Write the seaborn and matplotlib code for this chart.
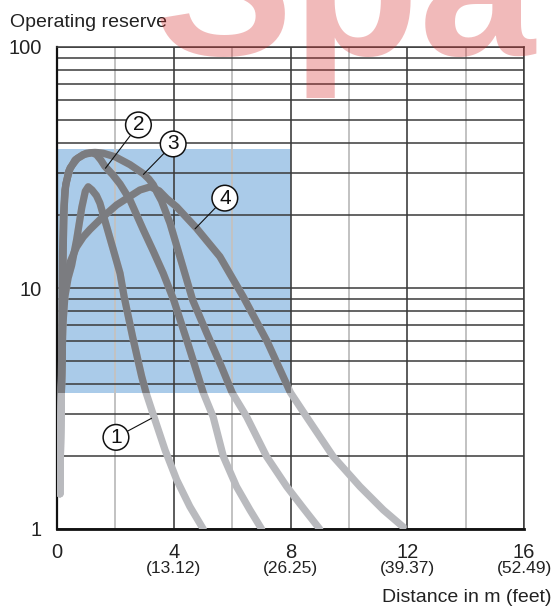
import matplotlib
matplotlib.use("Agg")
import matplotlib.pyplot as plt
import seaborn as sns
import numpy as np
import pandas as pd
from matplotlib.patches import Rectangle

# ---------------- data ----------------
x_ticks = [0, 4, 8, 12, 16]
x_tick_labels = ["0", "4", "8", "12", "16"]
x_feet_labels = ["", "(13.12)", "(26.25)", "(39.37)", "(52.49)"]
y_ticks = [1, 10, 100]
y_tick_labels = ["1", "10", "100"]

curve1_x = [0.10, 0.12, 0.15, 0.20, 0.27, 0.38, 0.50, 0.67, 0.85, 0.97, 1.07, 1.20, 1.35, 1.47, 1.70, 1.93, 2.16, 2.30, 2.60, 2.90, 3.05, 3.36, 3.70, 4.10, 4.55, 5.01]
curve1_y = [1.40, 2.20, 3.70, 7.00, 9.20, 11.0, 12.4, 15.8, 21.6, 25.2, 26.3, 25.5, 24.2, 22.5, 18.0, 14.4, 11.5, 9.2, 6.2, 4.3, 3.68, 2.83, 2.13, 1.60, 1.24, 1.00]

curve2_x = [0.10, 0.12, 0.15, 0.17, 0.19, 0.22, 0.27, 0.40, 0.62, 0.90, 1.20, 1.35, 1.50, 1.64, 1.90, 2.16, 2.50, 2.96, 3.30, 3.64, 4.00, 4.50, 5.01, 5.35, 5.70, 6.15, 6.61, 7.01]
curve2_y = [1.40, 2.20, 3.70, 8.00, 14.0, 20.0, 25.5, 30.5, 34.0, 35.8, 36.4, 35.8, 34.0, 32.0, 29.6, 27.0, 23.2, 17.4, 14.2, 11.5, 8.9, 5.8, 3.68, 2.92, 2.00, 1.50, 1.20, 1.00]

curve3_x = [0.10, 0.12, 0.15, 0.20, 0.22, 0.25, 0.30, 0.45, 0.70, 1.00, 1.30, 1.60, 2.00, 2.50, 2.96, 3.15, 3.30, 3.45, 3.58, 3.87, 4.21, 4.65, 5.13, 5.64, 6.00, 6.50, 7.18, 7.87, 8.44, 9.00]
curve3_y = [1.40, 2.20, 3.70, 10.0, 16.0, 22.0, 27.0, 31.5, 34.5, 36.2, 36.6, 36.2, 35.0, 32.5, 29.8, 28.3, 26.8, 24.6, 23.0, 18.6, 13.5, 8.9, 6.5, 4.7, 3.68, 2.92, 2.00, 1.50, 1.22, 1.00]

curve4_x = [0.10, 0.12, 0.15, 0.20, 0.27, 0.45, 0.67, 0.90, 1.13, 1.47, 2.04, 2.50, 2.84, 3.20, 3.50, 3.76, 4.10, 4.78, 5.58, 6.38, 7.20, 8.00, 8.55, 9.46, 10.38, 11.18, 11.86]
curve4_y = [1.40, 2.20, 3.70, 8.00, 10.2, 12.8, 14.8, 16.3, 17.5, 19.2, 22.1, 24.0, 25.5, 26.3, 25.3, 23.5, 21.7, 17.7, 13.5, 9.2, 6.0, 3.68, 2.92, 2.00, 1.50, 1.20, 1.02]

curves_x = [curve1_x, curve2_x, curve3_x, curve4_x]
curves_y = [curve1_y, curve2_y, curve3_y, curve4_y]

# highlighted zone (operating area)
zone_x = [0, 8]
zone_y = [3.67, 37.7]

# callout labels: text, circle position, pointer target
callout_text = ["1", "2", "3", "4"]
callout_xy_text = [(2.02, 2.40), (2.79, 47.5), (3.98, 39.6), (5.75, 23.6)]
callout_xy_point = [(3.24, 2.88), (1.66, 31.4), (2.96, 29.6), (4.73, 17.6)]

# ---------------- style ----------------
sns.set_style("white")
plt.rcParams["font.family"] = ["Liberation Sans", "DejaVu Sans"]

DARK = "#7b7c80"
LIGHT = "#b9babe"
BLUE = "#aacbe9"
TXT = "#222222"

fig = plt.figure(figsize=(5.53, 6.07), dpi=100)
ax = fig.add_axes([57 / 553, 1 - 529 / 607, (524 - 57) / 553, (529 - 47) / 607])
ax.set_yscale("log")
ax.set_xlim(0, 16)
ax.set_ylim(1, 100)

# blue zone
rect = Rectangle((zone_x[0], zone_y[0]), zone_x[1] - zone_x[0], zone_y[1] - zone_y[0],
                 facecolor=BLUE, edgecolor="none", zorder=0.6)
ax.add_patch(rect)

# grid
ax.set_axisbelow("line")
ax.set_xticks(x_ticks)
ax.set_xticklabels(x_tick_labels)
ax.set_xticks([2, 6, 10, 14], minor=True)
ax.set_yticks(y_ticks)
ax.set_yticklabels(y_tick_labels)
minor_y = [m * d for d in (1, 10) for m in range(2, 10)]
ax.set_yticks(minor_y, minor=True)
ax.set_yticklabels([], minor=True)
ax.grid(True, which="both", axis="y", color="#3a3a3a", lw=1.1)
ax.grid(True, which="major", axis="x", color="#404040", lw=1.2)
ax.grid(True, which="minor", axis="x", color="#c2c2c2", lw=1.4)
ax.tick_params(which="both", length=0)
ax.tick_params(axis="y", labelsize=14.5, pad=11, colors=TXT)
ax.tick_params(axis="x", labelsize=14.5, pad=10, colors=TXT)

for s in ["left", "bottom"]:
    ax.spines[s].set_color("#111111")
    ax.spines[s].set_linewidth(1.6)
ax.spines["bottom"].set_linewidth(2.0)
for s in ["top", "right"]:
    ax.spines[s].set_color("#3a3a3a")
    ax.spines[s].set_linewidth(1.1)

# curves: light full, then dark clipped to the blue zone
for cx, cy in zip(curves_x, curves_y):
    sns.lineplot(x=cx, y=cy, sort=False, estimator=None, ax=ax, color=LIGHT, lw=5.2)
    ln = ax.lines[-1]
    ln.set_solid_capstyle("round")
    ln.set_solid_joinstyle("round")
    ln.set_zorder(3)
for cx, cy in zip(curves_x, curves_y):
    sns.lineplot(x=cx, y=cy, sort=False, estimator=None, ax=ax, color=DARK, lw=5.2)
    ln = ax.lines[-1]
    ln.set_solid_capstyle("round")
    ln.set_solid_joinstyle("round")
    ln.set_zorder(4)
    ln.set_clip_path(rect)

# feet labels
for xv, ft in zip(x_ticks, x_feet_labels):
    if ft:
        ax.annotate(ft, xy=(xv, 0), xycoords=("data", "axes fraction"),
                    xytext=(0, -40), textcoords="offset pixels",
                    ha="center", va="center", fontsize=12.5, color=TXT)

# callouts
for t, pt_t, pt_p in zip(callout_text, callout_xy_text, callout_xy_point):
    ax.annotate(t, xy=pt_p, xytext=pt_t, xycoords="data", textcoords="data",
                ha="center", va="center", fontsize=15, color="#111111",
                bbox=dict(boxstyle="circle,pad=0.16", fc="white", ec="#111111", lw=1.1),
                arrowprops=dict(arrowstyle="-", color="#111111", lw=0.8,
                                shrinkA=0, shrinkB=0),
                zorder=6)

# titles
fig.text(10 / 553, 1 - 27 / 607, "Operating reserve", fontsize=14, color=TXT,
         ha="left", va="baseline")
fig.text(551 / 553, 1 - 597 / 607, "Distance in m (feet)", fontsize=14, color=TXT,
         ha="right", va="center")

# watermark
fig.text(154 / 553, 1 - 55 / 607, "Spa", fontsize=150, fontweight="bold",
         family="Liberation Sans", color="#d42a2a", alpha=0.32,
         ha="left", va="baseline", zorder=10)

fig.savefig("out.png", dpi=100)
